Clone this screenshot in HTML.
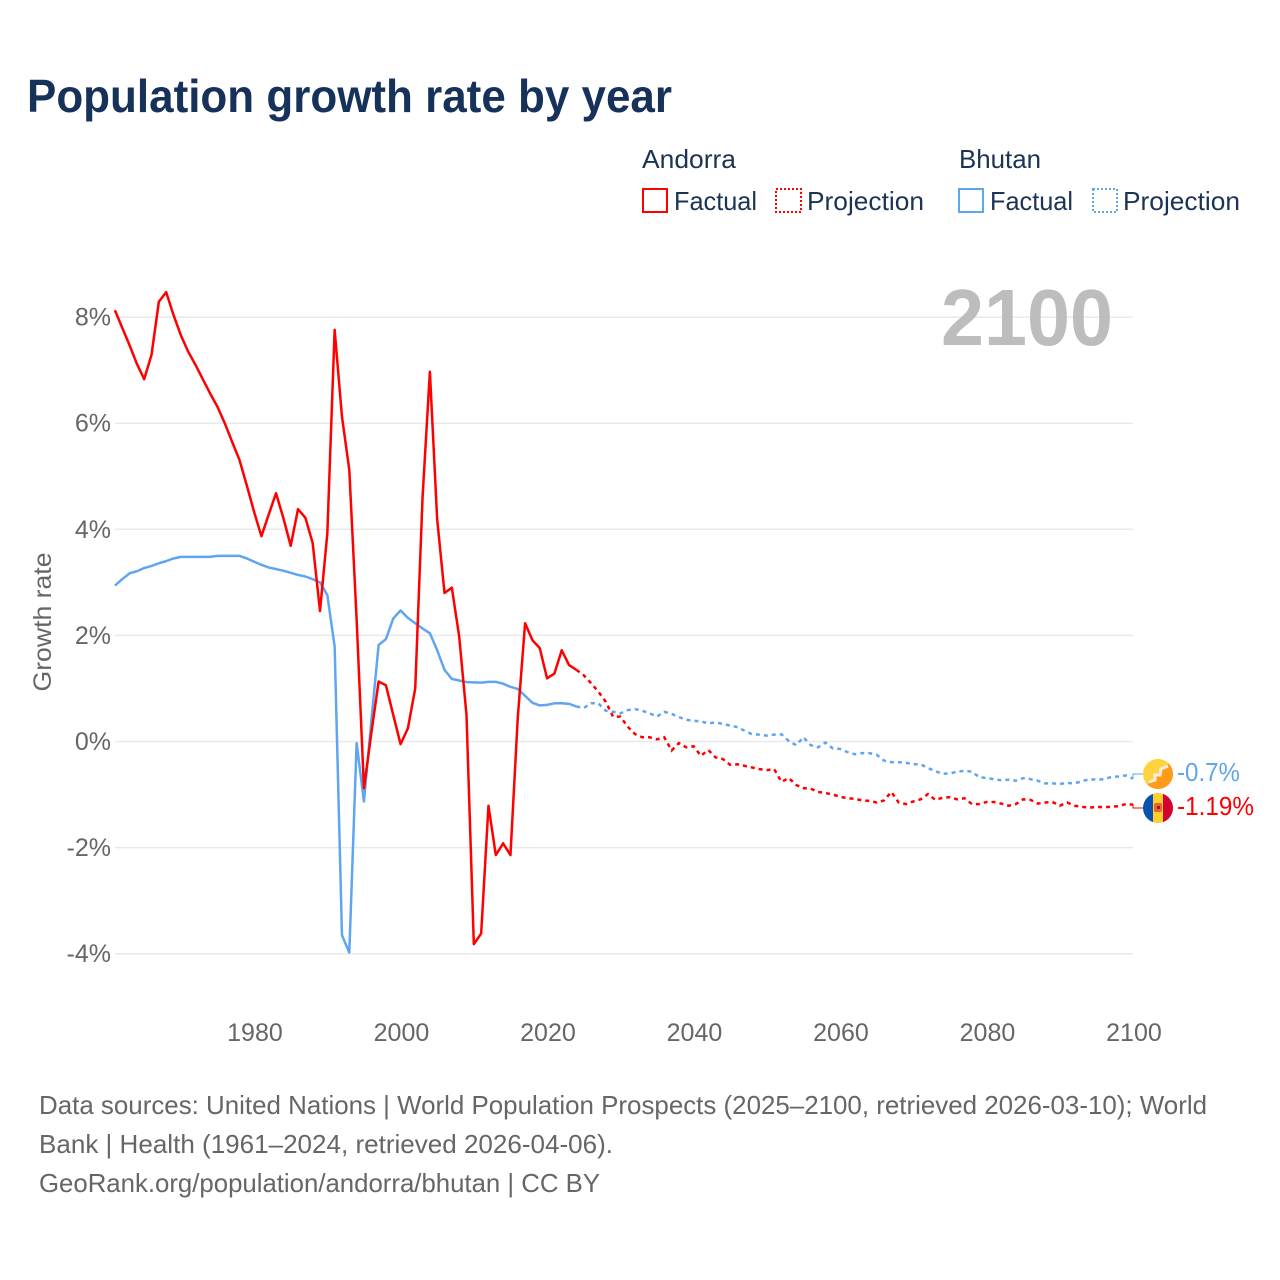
<!DOCTYPE html>
<html lang="en">
<head>
<meta charset="utf-8">
<title>Population growth rate by year</title>
<style>
html,body{margin:0;padding:0;background:#fff;}
svg{display:block;font-family:"Liberation Sans",sans-serif;}
.legend-text{font-size:26px;fill:#1b3354;}
.foot{font-size:26px;fill:#666;}
.tick{font-size:25px;fill:#666;}
</style>
</head>
<body>
<svg id="chart" width="1280" height="1280" viewBox="0 0 1280 1280" xmlns="http://www.w3.org/2000/svg">
  <rect x="0" y="0" width="1280" height="1280" fill="#fff"/>
  <text x="27" y="112" font-size="46" font-weight="700" fill="#17325a" textLength="645" lengthAdjust="spacingAndGlyphs">Population growth rate by year</text>

  <g>
    <text class="legend-text" x="642" y="168" textLength="94" lengthAdjust="spacingAndGlyphs">Andorra</text>
    <text class="legend-text" x="959" y="168" textLength="82" lengthAdjust="spacingAndGlyphs">Bhutan</text>
    <g>
      <rect x="643" y="189" width="24" height="23" fill="none" stroke="#ff0000" stroke-width="2"/>
      <text class="legend-text" x="674" y="210" textLength="83" lengthAdjust="spacingAndGlyphs">Factual</text>
    </g>
    <g>
      <rect x="776" y="189" width="25" height="23" fill="none" stroke="#ff0000" stroke-width="2" stroke-dasharray="2 2"/>
      <text class="legend-text" x="807" y="210" textLength="117" lengthAdjust="spacingAndGlyphs">Projection</text>
    </g>
    <g>
      <rect x="959" y="189" width="24" height="23" fill="none" stroke="#60a5ef" stroke-width="2"/>
      <text class="legend-text" x="990" y="210" textLength="83" lengthAdjust="spacingAndGlyphs">Factual</text>
    </g>
    <g>
      <rect x="1093" y="189" width="24" height="23" fill="none" stroke="#60a5ef" stroke-width="2" stroke-dasharray="2 2"/>
      <text class="legend-text" x="1123" y="210" textLength="117" lengthAdjust="spacingAndGlyphs">Projection</text>
    </g>
  </g>

  <g id="grid"></g>
  <text x="941" y="345" font-size="80" font-weight="700" fill="#bdbdbd" textLength="172" lengthAdjust="spacingAndGlyphs">2100</text>
  <g id="yticks"></g>
  <g id="xticks"></g>
  <text transform="translate(51,622) rotate(-90)" text-anchor="middle" font-size="25" fill="#666" textLength="139" lengthAdjust="spacingAndGlyphs">Growth rate</text>

  <g id="series"></g>

  <g>
    <clipPath id="bhutan-clip"><circle cx="1158" cy="774" r="15"/></clipPath>
    <g clip-path="url(#bhutan-clip)">
      <rect x="1143" y="759" width="30" height="30" fill="#ffd23f"/>
      <path d="M1173 759 L1173 789 L1143 789 Z" fill="#ff9a1a"/>
      <path d="M1149 782 L1155 780 L1155 775 L1160 775 L1161 769 L1168 766" fill="none" stroke="#fbeedc" stroke-width="3"/>
    </g>
  </g>
  <g>
    <clipPath id="andorra-clip"><circle cx="1158" cy="808" r="15"/></clipPath>
    <g clip-path="url(#andorra-clip)">
      <rect x="1143" y="793" width="10" height="30" fill="#0a52b0"/>
      <rect x="1153" y="793" width="10" height="30" fill="#ffcf2e"/>
      <rect x="1163" y="793" width="10" height="30" fill="#d5002f"/>
      <rect x="1154" y="803" width="8" height="9" rx="2" fill="#e8662a"/>
      <rect x="1157" y="806" width="3" height="3" fill="#b3122c"/>
    </g>
  </g>
  <text id="label-bhutan" x="1177" y="781" font-size="26" fill="#60a5ef" textLength="63" lengthAdjust="spacingAndGlyphs"></text>
  <text id="label-andorra" x="1177" y="815" font-size="26" fill="#ff0000" textLength="77" lengthAdjust="spacingAndGlyphs"></text>

  <g>
    <text class="foot" x="39" y="1114" textLength="1168" lengthAdjust="spacingAndGlyphs">Data sources: United Nations | World Population Prospects (2025–2100, retrieved 2026-03-10); World</text>
    <text class="foot" x="39" y="1153" textLength="574" lengthAdjust="spacingAndGlyphs">Bank | Health (1961–2024, retrieved 2026-04-06).</text>
    <text class="foot" x="39" y="1192" textLength="561" lengthAdjust="spacingAndGlyphs">GeoRank.org/population/andorra/bhutan | CC BY</text>
  </g>
</svg>

<script>
const factualStartYear = 1961;
const projectionStartYear = 2025;
const yTickValues = [8, 6, 4, 2, 0, -2, -4];
const xTickValues = [1980, 2000, 2020, 2040, 2060, 2080, 2100];

const andorraFactual = [
  8.13,7.8,7.47,7.12,6.83,7.29,8.29,8.47,8.04,7.66,
  7.35,7.10,6.83,6.56,6.31,6.0,5.65,5.31,4.83,4.33,
  3.87,4.28,4.68,4.21,3.69,4.38,4.22,3.74,2.46,3.92,
  7.76,6.12,5.12,2.3,-0.88,0.15,1.13,1.06,0.5,-0.05,
  0.25,1.0,4.6,6.97,4.18,2.8,2.9,1.98,0.5,-3.82,
  -3.62,-1.21,-2.14,-1.92,-2.14,0.45,2.23,1.91,1.76,1.19,
  1.28,1.72,1.44,1.35
];
const andorraProjection = [
  1.25,1.10,0.94,0.75,0.47,0.47,0.28,0.14,0.08,0.08,
  0.04,0.08,-0.17,-0.03,-0.11,-0.09,-0.27,-0.16,-0.30,-0.33,
  -0.44,-0.43,-0.46,-0.49,-0.52,-0.54,-0.52,-0.76,-0.69,-0.82,
  -0.88,-0.89,-0.95,-0.97,-1.0,-1.04,-1.07,-1.08,-1.11,-1.12,
  -1.15,-1.11,-0.95,-1.15,-1.18,-1.13,-1.09,-0.99,-1.10,-1.06,
  -1.05,-1.09,-1.07,-1.18,-1.18,-1.14,-1.14,-1.17,-1.21,-1.18,
  -1.09,-1.10,-1.17,-1.15,-1.14,-1.21,-1.15,-1.21,-1.23,-1.25,
  -1.23,-1.24,-1.23,-1.22,-1.18,-1.19
];
const bhutanFactual = [
  2.94,3.06,3.17,3.21,3.27,3.31,3.36,3.40,3.45,3.48,
  3.48,3.48,3.48,3.48,3.5,3.5,3.5,3.5,3.45,3.39,
  3.33,3.28,3.25,3.22,3.18,3.14,3.11,3.06,3.0,2.76,
  1.79,-3.65,-3.98,-0.03,-1.13,0.38,1.82,1.93,2.32,2.47,
  2.33,2.23,2.13,2.04,1.72,1.35,1.18,1.15,1.12,1.115,
  1.11,1.125,1.125,1.09,1.03,0.99,0.86,0.73,0.68,0.69,
  0.72,0.72,0.71,0.66
];
const bhutanProjection = [
  0.63,0.72,0.72,0.58,0.56,0.53,0.59,0.61,0.58,0.53,
  0.47,0.56,0.52,0.46,0.41,0.39,0.38,0.34,0.36,0.33,
  0.30,0.27,0.20,0.135,0.13,0.11,0.13,0.135,0.01,-0.07,
  0.08,-0.07,-0.11,-0.02,-0.13,-0.14,-0.2,-0.24,-0.22,-0.22,
  -0.25,-0.36,-0.39,-0.39,-0.40,-0.43,-0.43,-0.5,-0.56,-0.61,
  -0.6,-0.57,-0.55,-0.57,-0.67,-0.69,-0.71,-0.73,-0.72,-0.74,
  -0.69,-0.71,-0.74,-0.79,-0.79,-0.8,-0.78,-0.79,-0.75,-0.71,
  -0.72,-0.71,-0.67,-0.66,-0.64,-0.7
];

const SVG_NS = 'http://www.w3.org/2000/svg';
const RED = '#ff0000';
const BLUE = '#60a5ef';
const LINE_WIDTH = 2.5;

function xScale(year) { return 114.9 + (year - 1961) * 7.325; }
function yScale(value) { return 741.5 - value * 53.05; }
function yearOf(startYear, index) { return startYear + index; }

function buildPath(startYear, values, lead) {
  const parts = [];
  if (lead !== null) {
    parts.push('M' + xScale(startYear - 1).toFixed(2) + ' ' + yScale(lead).toFixed(2));
  }
  values.forEach(function (v, i) {
    const cmd = (parts.length === 0) ? 'M' : 'L';
    parts.push(cmd + xScale(yearOf(startYear, i)).toFixed(2) + ' ' + yScale(v).toFixed(2));
  });
  return parts.join(' ');
}

const grid = document.getElementById('grid');
const yticks = document.getElementById('yticks');
yTickValues.forEach(function (v) {
  const line = document.createElementNS(SVG_NS, 'line');
  
  
  line.setAttribute('x1', 115);
  line.setAttribute('x2', 1133);
  line.setAttribute('y1', yScale(v));
  line.setAttribute('y2', yScale(v));
  line.setAttribute('stroke', '#e9e9e9');
  line.setAttribute('stroke-width', 1.5);
  grid.appendChild(line);

  const label = document.createElementNS(SVG_NS, 'text');
  
  
  label.setAttribute('class', 'tick');
  label.setAttribute('x', 111);
  label.setAttribute('y', yScale(v) + 8.5);
  label.setAttribute('text-anchor', 'end');
  label.textContent = v + '%';
  yticks.appendChild(label);
});

const xticks = document.getElementById('xticks');
xTickValues.forEach(function (year) {
  const label = document.createElementNS(SVG_NS, 'text');
  
  
  label.setAttribute('class', 'tick');
  label.setAttribute('x', xScale(year) + 0.9);
  label.setAttribute('y', 1041);
  label.setAttribute('text-anchor', 'middle');
  label.textContent = String(year);
  xticks.appendChild(label);
});

const seriesGroup = document.getElementById('series');

const bhutanFactualLine = document.createElementNS(SVG_NS, 'path');


bhutanFactualLine.setAttribute('d', buildPath(factualStartYear, bhutanFactual, null));
bhutanFactualLine.setAttribute('fill', 'none');
bhutanFactualLine.setAttribute('stroke', BLUE);
bhutanFactualLine.setAttribute('stroke-width', LINE_WIDTH);
bhutanFactualLine.setAttribute('stroke-linejoin', 'round');
seriesGroup.appendChild(bhutanFactualLine);

const bhutanProjectionLine = document.createElementNS(SVG_NS, 'path');


bhutanProjectionLine.setAttribute('d', buildPath(projectionStartYear, bhutanProjection, bhutanFactual[bhutanFactual.length - 1]));
bhutanProjectionLine.setAttribute('fill', 'none');
bhutanProjectionLine.setAttribute('stroke', BLUE);
bhutanProjectionLine.setAttribute('stroke-width', LINE_WIDTH);
bhutanProjectionLine.setAttribute('stroke-dasharray', '4 4');
seriesGroup.appendChild(bhutanProjectionLine);

const andorraFactualLine = document.createElementNS(SVG_NS, 'path');


andorraFactualLine.setAttribute('d', buildPath(factualStartYear, andorraFactual, null));
andorraFactualLine.setAttribute('fill', 'none');
andorraFactualLine.setAttribute('stroke', RED);
andorraFactualLine.setAttribute('stroke-width', LINE_WIDTH);
andorraFactualLine.setAttribute('stroke-linejoin', 'round');
seriesGroup.appendChild(andorraFactualLine);

const andorraProjectionLine = document.createElementNS(SVG_NS, 'path');


andorraProjectionLine.setAttribute('d', buildPath(projectionStartYear, andorraProjection, andorraFactual[andorraFactual.length - 1]));
andorraProjectionLine.setAttribute('fill', 'none');
andorraProjectionLine.setAttribute('stroke', RED);
andorraProjectionLine.setAttribute('stroke-width', LINE_WIDTH);
andorraProjectionLine.setAttribute('stroke-dasharray', '4 4');
seriesGroup.appendChild(andorraProjectionLine);

const bhutanLast = bhutanProjection[bhutanProjection.length - 1];
const bhutanConnector = document.createElementNS(SVG_NS, 'path');


bhutanConnector.setAttribute('d', 'M' + xScale(2100) + ' ' + yScale(bhutanLast) + ' L' + xScale(2100) + ' 774 L1144 774');
bhutanConnector.setAttribute('fill', 'none');
bhutanConnector.setAttribute('stroke', BLUE);
bhutanConnector.setAttribute('stroke-width', 1);
seriesGroup.appendChild(bhutanConnector);

const andorraLast = andorraProjection[andorraProjection.length - 1];
const andorraConnector = document.createElementNS(SVG_NS, 'path');


andorraConnector.setAttribute('d', 'M' + xScale(2100) + ' ' + yScale(andorraLast) + ' L' + xScale(2100) + ' 808 L1144 808');
andorraConnector.setAttribute('fill', 'none');
andorraConnector.setAttribute('stroke', RED);
andorraConnector.setAttribute('stroke-width', 1);
seriesGroup.appendChild(andorraConnector);

document.getElementById('label-bhutan').textContent = bhutanLast + '%';
document.getElementById('label-andorra').textContent = andorraLast + '%';
</script>
</body>
</html>
